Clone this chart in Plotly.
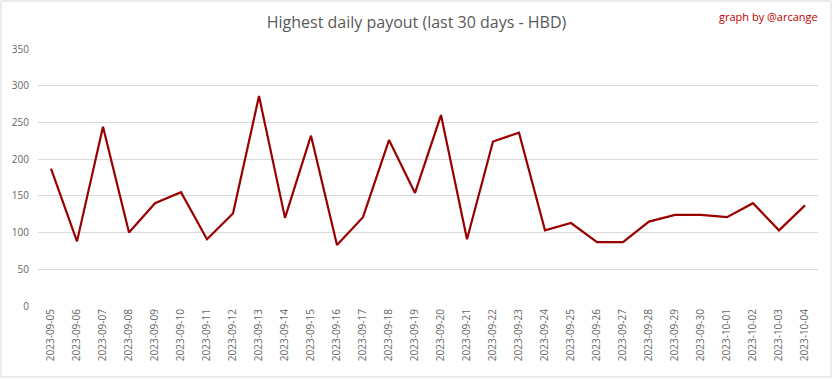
import plotly.graph_objects as go

dates = ["2023-09-05","2023-09-06","2023-09-07","2023-09-08","2023-09-09","2023-09-10",
         "2023-09-11","2023-09-12","2023-09-13","2023-09-14","2023-09-15","2023-09-16",
         "2023-09-17","2023-09-18","2023-09-19","2023-09-20","2023-09-21","2023-09-22",
         "2023-09-23","2023-09-24","2023-09-25","2023-09-26","2023-09-27","2023-09-28",
         "2023-09-29","2023-09-30","2023-10-01","2023-10-02","2023-10-03","2023-10-04"]
payout = [187, 88, 244, 100, 140, 155, 91, 126, 286, 120, 232, 83, 121, 226, 154,
          260, 91, 224, 236, 103, 113, 87, 87, 115, 124, 124, 121, 140, 103, 137]
y_ticks = [0, 50, 100, 150, 200, 250, 300, 350]

W, H = 833, 379
ml, mr, mt, mb = 38, 15, 49, 73
pw, ph = W - ml - mr, H - mt - mb

fig = go.Figure()
fig.add_trace(go.Scatter(x=dates, y=payout, mode="lines",
                         line=dict(color="#990000", width=2.2), hoverinfo="x+y"))

fig.update_layout(
    width=W, height=H,
    margin=dict(l=ml, r=mr, t=mt, b=mb, autoexpand=False),
    paper_bgcolor="white", plot_bgcolor="white",
    font=dict(family="Open Sans, Liberation Sans, sans-serif", color="#595959"),
    showlegend=False,
    title=dict(text="Highest daily payout (last 30 days - HBD)", x=0.5, xref="container",
               xanchor="center", y=1 - 22 / H, yanchor="middle",
               font=dict(size=16, color="#595959")),
    xaxis=dict(type="category", tickangle=-90, showgrid=False, zeroline=False,
               showline=False, ticks="", tickfont=dict(size=10, color="#666666"),
               range=[-0.5, len(dates) - 0.5]),
    yaxis=dict(range=[0, 350], tickvals=y_ticks, showgrid=True, gridcolor="#d9d9d9",
               gridwidth=1, zeroline=False, showline=False, ticks="",
               tickfont=dict(size=10, color="#666666"), ticklabelstandoff=8),
    annotations=[dict(text="graph by @arcange", xref="paper", yref="paper",
                      x=(820 - ml) / pw, y=(H - mb - 16) / ph, xanchor="right",
                      yanchor="middle", showarrow=False,
                      font=dict(size=11, color="#c00000"))],
    shapes=[dict(type="rect", xref="paper", yref="paper",
                 x0=(1 - ml) / pw, x1=(831 - ml) / pw,
                 y0=(H - mb - 377) / ph, y1=(H - mb - 1) / ph,
                 line=dict(color="#d9d9d9", width=1), fillcolor="rgba(0,0,0,0)")],
)

fig.write_html("out.html", config={"displayModeBar": False},
               post_script="document.body.style.margin='0';")
